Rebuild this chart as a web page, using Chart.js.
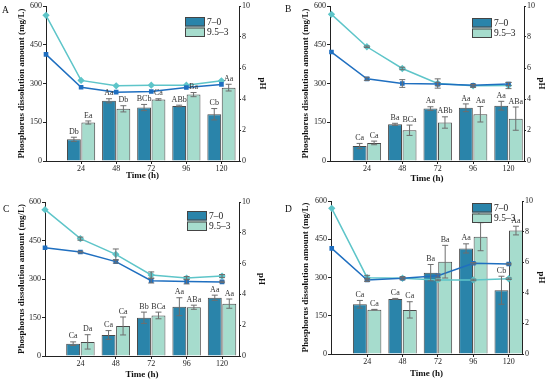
<!DOCTYPE html>
<html>
<head>
<meta charset="utf-8">
<script src="https://cdn.jsdelivr.net/npm/chart.js@4.4.0/dist/chart.umd.min.js"></script>
<style>
  body { margin: 0; background: #fff; }
  #fig { position: relative; width: 550px; height: 382px; }
  canvas { position: absolute; }
</style>
</head>
<body>
<div id="fig">
  <canvas id="cA" width="275" height="191" style="left:0;top:0"></canvas>
  <canvas id="cB" width="266" height="191" style="left:284px;top:0"></canvas>
  <canvas id="cC" width="275" height="191" style="left:0;top:191px"></canvas>
  <canvas id="cD" width="266" height="191" style="left:284px;top:191px"></canvas>
</div>
<script>
// sampling times (h) and series names
const times = [24, 48, 72, 96, 120];
const phTimes = [0, 24, 48, 72, 96, 120];
const seriesNames = ['7–0', '9.5–3'];

// panel A
const aBarDark = [84, 233, 207, 213, 181];
const aBarLight = [149, 202, 238, 257, 284];
const aErrDark = [8, 8, 12, 3, 22];
const aErrLight = [6, 12, 3, 8, 13];
const aLabDark = ['Db', 'Aa', 'BCb', 'ABb', 'Cb'];
const aLabLight = ['Ea', 'Db', 'Ca', 'Ba', 'Aa'];
const aPhDark = [6.88, 4.76, 4.44, 4.48, 4.74, 4.94];
const aPhLight = [9.4, 5.2, 4.85, 4.89, 4.89, 5.17];
const aPhErrDark = [0, 0, 0, 0, 0, 0];
const aPhErrLight = [0, 0, 0, 0, 0, 0];

// panel B
const bBarDark = [58, 142, 203, 206, 214];
const bBarLight = [70, 119, 149, 181, 164];
const bErrDark = [10, 4, 7, 15, 17];
const bErrLight = [7, 20, 22, 30, 45];
const bLabDark = ['Ca', 'Ba', 'Aa', 'Aa', 'Aa'];
const bLabLight = ['Ca', 'BCa', 'ABb', 'Aa', 'ABa'];
const bPhDark = [7.03, 5.3, 5.0, 4.96, 4.88, 4.97];
const bPhLight = [9.46, 7.37, 5.97, 5.0, 4.85, 4.87];
const bPhErrDark = [0, 0.1, 0.25, 0.1, 0.05, 0.1];
const bPhErrLight = [0, 0.05, 0.08, 0.3, 0.1, 0.2];

// panel C
const cBarDark = [48, 82, 149, 192, 227];
const cBarLight = [55, 117, 158, 190, 204];
const cErrDark = [7, 17, 22, 35, 10];
const cErrLight = [28, 35, 13, 8, 18];
const cLabDark = ['Ca', 'Ca', 'Bb', 'Aa', 'Aa'];
const cLabLight = ['Da', 'Ca', 'BCa', 'ABa', 'Aa'];
const cPhDark = [7.03, 6.75, 6.13, 4.89, 4.83, 4.81];
const cPhLight = [9.5, 7.62, 6.6, 5.26, 5.06, 5.19];
const cPhErrDark = [0, 0.05, 0.1, 0.15, 0.15, 0.05];
const cPhErrLight = [0, 0.1, 0.35, 0.2, 0.1, 0.1];

// panel D
const dBarDark = [195, 216, 319, 414, 250];
const dBarLight = [174, 173, 362, 460, 484];
const dErrDark = [15, 2, 32, 18, 55];
const dErrLight = [1, 32, 64, 55, 17];
const dLabDark = ['Ca', 'Ca', 'Ba', 'Aa', 'Cb'];
const dLabLight = ['Ca', 'Ca', 'Ba', 'Aa', 'Aa'];
const dPhDark = [6.9, 4.84, 4.95, 5.12, 5.93, 5.88];
const dPhLight = [9.52, 4.99, 4.95, 4.84, 4.84, 4.92];
const dPhErrDark = [0, 0.1, 0.05, 0.1, 0.05, 0.05];
const dPhErrLight = [0, 0.15, 0.1, 0.05, 0.05, 0.05];

const SERIF = "'Liberation Serif', 'Times New Roman', serif";
const BAR_DARK = '#2a84aa';
const BAR_LIGHT = '#a6dccd';
const LINE_DARK = '#1f6fc0';
const LINE_LIGHT = '#5ec5c9';
const AXIS = '#222';

Chart.defaults.font.family = SERIF;
Chart.defaults.color = '#222';

// error bars, letter marks, legend box and panel letter
const annotate = {
  id: 'annotate',
  afterDatasetsDraw(chart, args, o) {
    const c = chart.ctx;
    const area = chart.chartArea;
    chart.data.datasets.forEach((ds, di) => {
      const meta = chart.getDatasetMeta(di);
      const ys = chart.scales[meta.yAxisID];
      meta.data.forEach((el, i) => {
        const v = ds.data[i].y;
        const e = ds.errs ? ds.errs[i] : 0;
        if (e) {
          const yt = ys.getPixelForValue(v + e), yb = ys.getPixelForValue(v - e);
          c.save();
          c.strokeStyle = '#6e6e6e';
          c.lineWidth = 1;
          c.beginPath();
          c.moveTo(el.x, yt); c.lineTo(el.x, yb);
          c.moveTo(el.x - 3, yt); c.lineTo(el.x + 3, yt);
          c.moveTo(el.x - 3, yb); c.lineTo(el.x + 3, yb);
          c.stroke();
          c.restore();
        }
        if (ds.marks) {
          c.save();
          c.font = '8px ' + SERIF;
          c.fillStyle = '#333';
          c.textAlign = 'center';
          c.textBaseline = 'bottom';
          c.fillText(ds.marks[i], el.x, ys.getPixelForValue(v + e) - 1.5);
          c.restore();
        }
      });
    });
    // legend
    const bars = chart.data.datasets.filter(d => d.type !== 'line');
    const lx = area.right + o.legDx, ly = area.top + o.legDy;
    bars.forEach((d, i) => {
      const y = ly + i * 10.5;
      c.save();
      c.fillStyle = d.backgroundColor;
      c.fillRect(lx, y, 20, 9.5);
      c.strokeStyle = '#444';
      c.lineWidth = 1;
      c.strokeRect(lx + 0.5, y + 0.5, 19, 8.5);
      c.font = '9.5px ' + SERIF;
      c.fillStyle = '#222';
      c.textBaseline = 'middle';
      c.fillText(d.label, lx + 22, y + 5);
      c.restore();
    });
    // panel letter
    c.save();
    c.font = '9.5px ' + SERIF;
    c.fillStyle = '#111';
    c.textBaseline = 'middle';
    c.fillText(o.letter, o.lx, o.ly);
    c.restore();
  }
};

function pts(xs, ys) { return xs.map((x, i) => ({ x: x, y: ys[i] })); }

function makeChart(id, p) {
  return new Chart(document.getElementById(id), {
    type: 'bar',
    plugins: [annotate],
    data: {
      datasets: [
        { type: 'line', label: seriesNames[0] + ' pH', data: pts(phTimes, p.phDark), errs: p.phErrDark,
          yAxisID: 'y1', borderColor: LINE_DARK, backgroundColor: LINE_DARK, borderWidth: 1.5,
          pointStyle: 'rect', pointRadius: 2.2, order: 0, clip: false },
        { type: 'line', label: seriesNames[1] + ' pH', data: pts(phTimes, p.phLight), errs: p.phErrLight,
          yAxisID: 'y1', borderColor: LINE_LIGHT, backgroundColor: LINE_LIGHT, borderWidth: 1.5,
          pointStyle: 'rectRot', pointRadius: 2.6, order: 0, clip: false },
        { label: seriesNames[0], data: pts(times, p.barDark), errs: p.errDark, marks: p.labDark,
          yAxisID: 'y', backgroundColor: BAR_DARK, borderColor: '#4a4a4a', borderWidth: 1,
          categoryPercentage: 0.82, barPercentage: 0.96, order: 1 },
        { label: seriesNames[1], data: pts(times, p.barLight), errs: p.errLight, marks: p.labLight,
          yAxisID: 'y', backgroundColor: BAR_LIGHT, borderColor: '#4a4a4a', borderWidth: 1,
          categoryPercentage: 0.82, barPercentage: 0.96, order: 1 }
      ]
    },
    options: {
      responsive: false,
      animation: false,
      layout: { padding: { top: p.top, left: 0, right: 0, bottom: 0 } },
      plugins: {
        legend: { display: false },
        tooltip: { enabled: false },
        annotate: { letter: p.letter, lx: p.lx, ly: p.ly, legDx: p.legDx, legDy: p.legDy }
      },
      scales: {
        x: {
          type: 'linear', min: p.xMin, max: p.xMax, offset: false,
          afterBuildTicks: s => { s.ticks = times.map(v => ({ value: v })); },
          afterFit: s => { s.height = p.bottomH; },
          grid: { display: true, drawOnChartArea: false, drawTicks: true, tickLength: 3, color: AXIS, offset: false },
          border: { display: true, color: AXIS, width: 1 },
          ticks: { font: { size: 8 }, padding: 0, maxRotation: 0 },
          title: { display: true, text: 'Time (h)', font: { size: 9, weight: 'bold' }, color: '#111',
                   padding: { top: 0, bottom: p.xTitlePad } }
        },
        y: {
          position: 'left', min: 0, max: 600,
          afterFit: s => { s.width = p.leftW; },
          grid: { display: true, drawOnChartArea: false, drawTicks: true, tickLength: 3, color: AXIS },
          border: { display: true, color: AXIS, width: 1 },
          ticks: { stepSize: 150, font: { size: 8 }, padding: 1 },
          title: { display: true, text: 'Phosphorus dissolution amount (mg/L)', font: { size: 9, weight: 'bold' },
                   color: '#111', padding: { top: 16, bottom: 0 } }
        },
        y1: {
          position: 'right', min: 0, max: 10,
          afterFit: s => { s.width = p.rightW; },
          grid: { display: true, drawOnChartArea: false, drawTicks: true, tickLength: 2, color: AXIS },
          border: { display: true, color: AXIS, width: 1 },
          ticks: { stepSize: 2, font: { size: 8 }, padding: 1 },
          title: { display: true, text: 'pH', font: { size: 9, weight: 'bold' }, color: '#111',
                   padding: { top: p.rTitlePad, bottom: 0 } }
        }
      }
    }
  });
}

makeChart('cA', {
  barDark: aBarDark, barLight: aBarLight, errDark: aErrDark, errLight: aErrLight,
  labDark: aLabDark, labLight: aLabLight, phDark: aPhDark, phLight: aPhLight,
  phErrDark: aPhErrDark, phErrLight: aPhErrLight,
  top: 6, leftW: 46, rightW: 36, bottomH: 30, xMin: 0, xMax: 132,
  xTitlePad: 10, rTitlePad: 7.5, legDx: -54, legDy: 11, letter: 'A', lx: 2, ly: 10
});
makeChart('cB', {
  barDark: bBarDark, barLight: bBarLight, errDark: bErrDark, errLight: bErrLight,
  labDark: bLabDark, labLight: bLabLight, phDark: bPhDark, phLight: bPhLight,
  phErrDark: bPhErrDark, phErrLight: bPhErrLight,
  top: 6, leftW: 46, rightW: 26, bottomH: 30, xMin: -1, xMax: 130.5,
  xTitlePad: 7, rTitlePad: 3, legDx: -52, legDy: 12, letter: 'B', lx: 1, ly: 9
});
makeChart('cC', {
  barDark: cBarDark, barLight: cBarLight, errDark: cErrDark, errLight: cErrLight,
  labDark: cLabDark, labLight: cLabLight, phDark: cPhDark, phLight: cPhLight,
  phErrDark: cPhErrDark, phErrLight: cPhErrLight,
  top: 11, leftW: 45, rightW: 36, bottomH: 26, xMin: 0, xMax: 131.5,
  xTitlePad: 2.3, rTitlePad: 8, legDx: -52, legDy: 9, letter: 'C', lx: 3, ly: 18
});
makeChart('cD', {
  barDark: dBarDark, barLight: dBarLight, errDark: dErrDark, errLight: dErrLight,
  labDark: dLabDark, labLight: dLabLight, phDark: dPhDark, phLight: dPhLight,
  phErrDark: dPhErrDark, phErrLight: dPhErrLight,
  top: 10, leftW: 47, rightW: 28, bottomH: 28, xMin: -0.5, xMax: 129,
  xTitlePad: 3, rTitlePad: 3, legDx: -50, legDy: 2, letter: 'D', lx: 1, ly: 18
});
</script>
</body>
</html>
